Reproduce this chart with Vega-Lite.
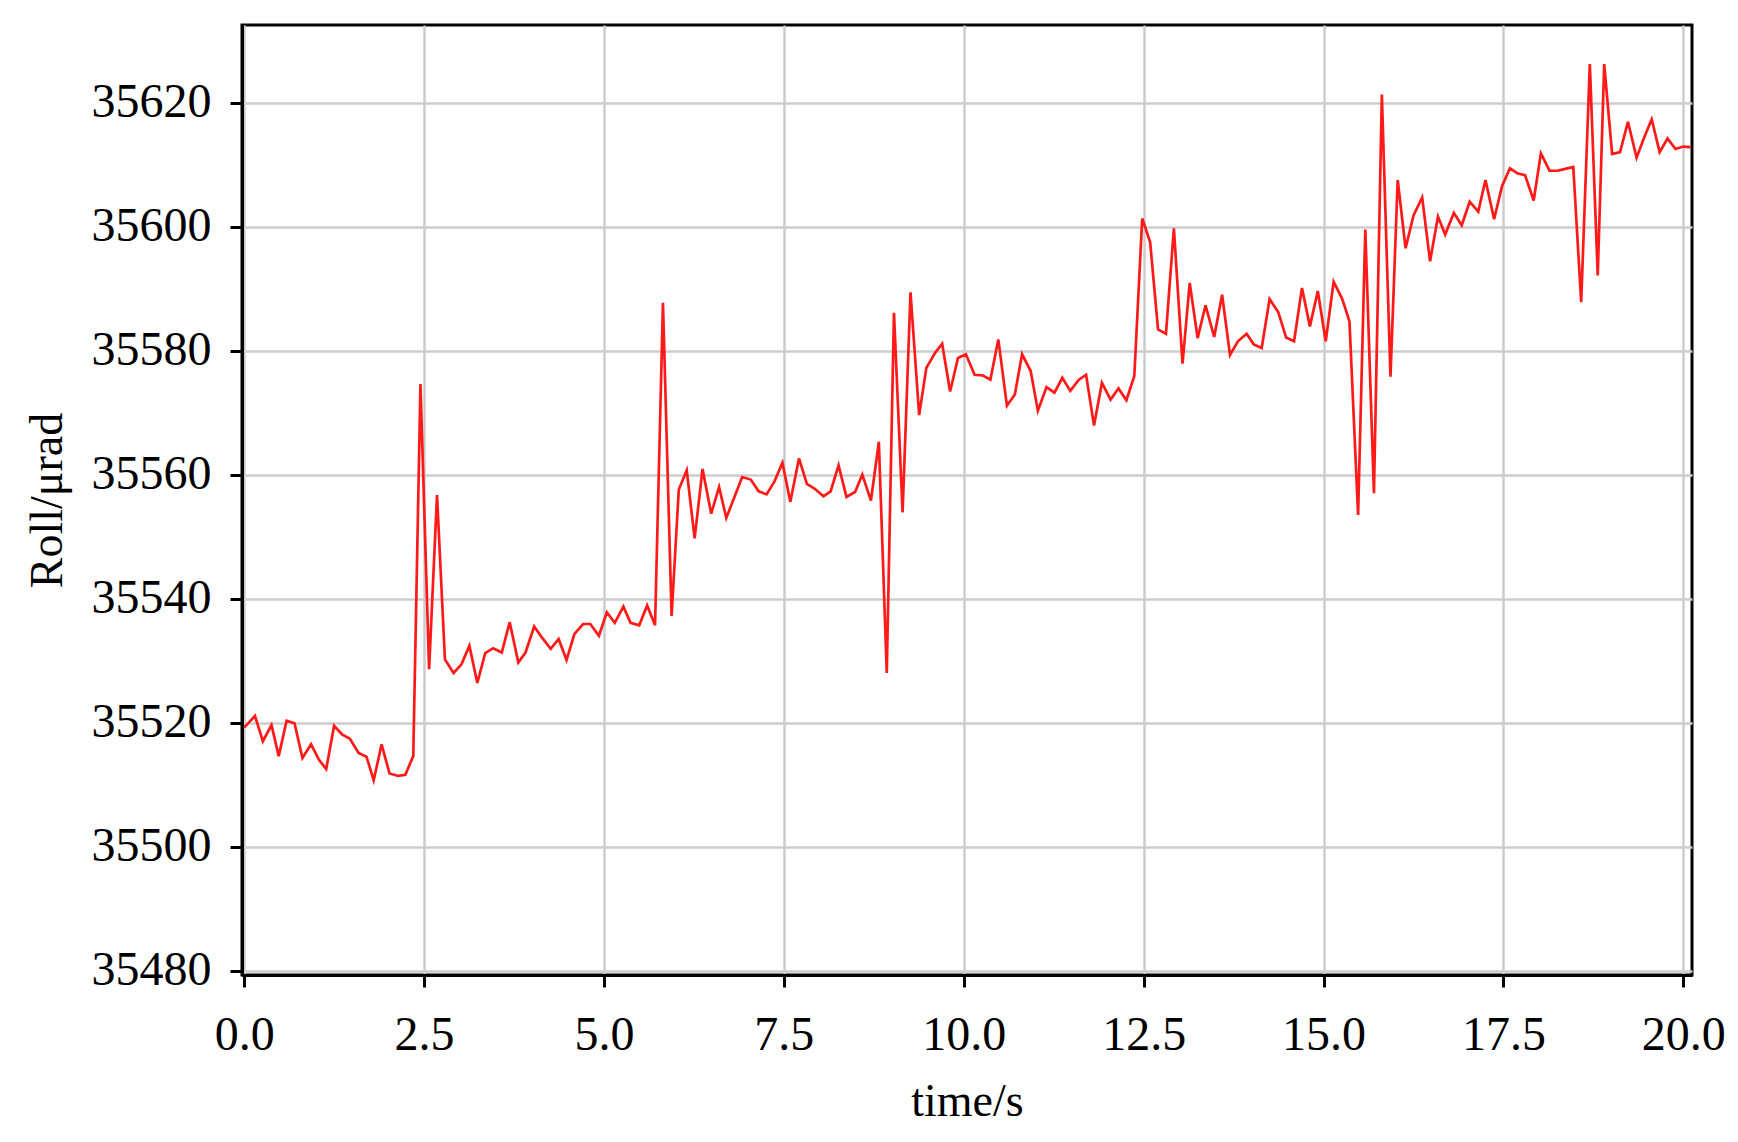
{
  "$schema": "https://vega.github.io/schema/vega-lite/v6.json",
  "width": 1450,
  "height": 950,
  "autosize": {"type": "none"},
  "padding": {"left": 242, "top": 25, "right": 46, "bottom": 167},
  "background": "white",
  "config": {
    "view": {"stroke": "black", "strokeWidth": 3},
    "axis": {
      "domainColor": "black",
      "domainWidth": 3,
      "tickColor": "black",
      "tickWidth": 3,
      "tickSize": 12,
      "labelFont": "Liberation Serif",
      "labelFontSize": 48,
      "labelColor": "black",
      "titleFont": "Liberation Serif",
      "titleFontSize": 46,
      "titleFontWeight": "normal",
      "titleColor": "black",
      "grid": true,
      "gridColor": "#cccccc",
      "gridWidth": 2.5
    }
  },
  "data": {
    "values": [
      {"t": 0.00, "roll": 35519.2}, {"t": 0.15, "roll": 35521.1}, {"t": 0.26, "roll": 35517.0}, {"t": 0.38, "roll": 35519.6},
      {"t": 0.48, "roll": 35514.6}, {"t": 0.59, "roll": 35520.3}, {"t": 0.70, "roll": 35519.9}, {"t": 0.81, "roll": 35514.3},
      {"t": 0.93, "roll": 35516.5}, {"t": 1.04, "roll": 35514.0}, {"t": 1.14, "roll": 35512.5}, {"t": 1.25, "roll": 35519.5},
      {"t": 1.36, "roll": 35518.1}, {"t": 1.47, "roll": 35517.4}, {"t": 1.59, "roll": 35515.1}, {"t": 1.70, "roll": 35514.5},
      {"t": 1.80, "roll": 35510.7}, {"t": 1.91, "roll": 35516.5}, {"t": 2.02, "roll": 35511.8}, {"t": 2.14, "roll": 35511.4},
      {"t": 2.24, "roll": 35511.6}, {"t": 2.35, "roll": 35514.6}, {"t": 2.45, "roll": 35574.6}, {"t": 2.57, "roll": 35528.6},
      {"t": 2.68, "roll": 35556.7}, {"t": 2.79, "roll": 35530.2}, {"t": 2.91, "roll": 35528.0}, {"t": 3.02, "roll": 35529.4},
      {"t": 3.13, "roll": 35532.4}, {"t": 3.24, "roll": 35526.4}, {"t": 3.35, "roll": 35531.2}, {"t": 3.46, "roll": 35532.0},
      {"t": 3.58, "roll": 35531.3}, {"t": 3.69, "roll": 35536.2}, {"t": 3.81, "roll": 35529.7}, {"t": 3.91, "roll": 35531.3},
      {"t": 4.03, "roll": 35535.5}, {"t": 4.14, "roll": 35533.7}, {"t": 4.26, "roll": 35531.9}, {"t": 4.37, "roll": 35533.5},
      {"t": 4.48, "roll": 35530.1}, {"t": 4.59, "roll": 35534.3}, {"t": 4.71, "roll": 35535.9}, {"t": 4.81, "roll": 35535.9},
      {"t": 4.93, "roll": 35534.0}, {"t": 5.04, "roll": 35537.8}, {"t": 5.15, "roll": 35536.1}, {"t": 5.27, "roll": 35538.7},
      {"t": 5.37, "roll": 35536.1}, {"t": 5.49, "roll": 35535.7}, {"t": 5.60, "roll": 35538.9}, {"t": 5.71, "roll": 35535.7},
      {"t": 5.82, "roll": 35587.7}, {"t": 5.94, "roll": 35537.2}, {"t": 6.04, "roll": 35557.6}, {"t": 6.15, "roll": 35560.7},
      {"t": 6.26, "roll": 35549.7}, {"t": 6.37, "roll": 35560.9}, {"t": 6.49, "roll": 35553.7}, {"t": 6.60, "roll": 35558.0},
      {"t": 6.70, "roll": 35553.0}, {"t": 6.82, "roll": 35556.6}, {"t": 6.92, "roll": 35559.6}, {"t": 7.04, "roll": 35559.2},
      {"t": 7.15, "roll": 35557.3}, {"t": 7.26, "roll": 35556.8}, {"t": 7.37, "roll": 35558.9}, {"t": 7.48, "roll": 35561.9},
      {"t": 7.59, "roll": 35555.6}, {"t": 7.71, "roll": 35562.6}, {"t": 7.82, "roll": 35558.5}, {"t": 7.93, "roll": 35557.7},
      {"t": 8.05, "roll": 35556.5}, {"t": 8.15, "roll": 35557.3}, {"t": 8.26, "roll": 35561.5}, {"t": 8.37, "roll": 35556.4},
      {"t": 8.49, "roll": 35557.2}, {"t": 8.59, "roll": 35560.0}, {"t": 8.71, "roll": 35555.8}, {"t": 8.82, "roll": 35565.3},
      {"t": 8.93, "roll": 35528.0}, {"t": 9.03, "roll": 35586.1}, {"t": 9.15, "roll": 35553.9}, {"t": 9.26, "roll": 35589.4},
      {"t": 9.38, "roll": 35569.6}, {"t": 9.48, "roll": 35577.2}, {"t": 9.60, "roll": 35579.6}, {"t": 9.70, "roll": 35581.1},
      {"t": 9.81, "roll": 35573.4}, {"t": 9.92, "roll": 35578.8}, {"t": 10.03, "roll": 35579.4}, {"t": 10.15, "roll": 35576.1},
      {"t": 10.26, "roll": 35576.0}, {"t": 10.37, "roll": 35575.3}, {"t": 10.48, "roll": 35581.8}, {"t": 10.60, "roll": 35571.1},
      {"t": 10.71, "roll": 35572.9}, {"t": 10.81, "roll": 35579.4}, {"t": 10.93, "roll": 35576.7}, {"t": 11.03, "roll": 35570.3},
      {"t": 11.15, "roll": 35574.1}, {"t": 11.26, "roll": 35573.2}, {"t": 11.37, "roll": 35575.6}, {"t": 11.48, "roll": 35573.5},
      {"t": 11.60, "roll": 35575.3}, {"t": 11.70, "roll": 35576.1}, {"t": 11.81, "roll": 35567.9}, {"t": 11.92, "roll": 35574.8},
      {"t": 12.04, "roll": 35572.1}, {"t": 12.15, "roll": 35573.9}, {"t": 12.26, "roll": 35572.0}, {"t": 12.37, "roll": 35575.9},
      {"t": 12.48, "roll": 35601.3}, {"t": 12.59, "roll": 35597.5}, {"t": 12.70, "roll": 35583.4}, {"t": 12.81, "roll": 35582.7},
      {"t": 12.92, "roll": 35599.7}, {"t": 13.04, "roll": 35577.9}, {"t": 13.14, "roll": 35590.9}, {"t": 13.25, "roll": 35582.0},
      {"t": 13.36, "roll": 35587.3}, {"t": 13.48, "roll": 35582.2}, {"t": 13.59, "roll": 35589.0}, {"t": 13.70, "roll": 35579.3},
      {"t": 13.81, "roll": 35581.5}, {"t": 13.93, "roll": 35582.7}, {"t": 14.03, "roll": 35581.0}, {"t": 14.14, "roll": 35580.4},
      {"t": 14.25, "roll": 35588.3}, {"t": 14.37, "roll": 35586.2}, {"t": 14.48, "roll": 35582.1}, {"t": 14.59, "roll": 35581.5},
      {"t": 14.70, "roll": 35590.1}, {"t": 14.81, "roll": 35583.9}, {"t": 14.92, "roll": 35589.6}, {"t": 15.03, "roll": 35581.5},
      {"t": 15.14, "roll": 35591.1}, {"t": 15.26, "roll": 35588.3}, {"t": 15.36, "roll": 35584.7}, {"t": 15.48, "roll": 35553.5},
      {"t": 15.58, "roll": 35599.5}, {"t": 15.70, "roll": 35557.0}, {"t": 15.81, "roll": 35621.3}, {"t": 15.93, "roll": 35575.8},
      {"t": 16.03, "roll": 35607.5}, {"t": 16.14, "roll": 35596.5}, {"t": 16.25, "roll": 35601.8}, {"t": 16.37, "roll": 35604.7},
      {"t": 16.48, "roll": 35594.4}, {"t": 16.59, "roll": 35601.6}, {"t": 16.69, "roll": 35598.7}, {"t": 16.81, "roll": 35602.2},
      {"t": 16.92, "roll": 35600.2}, {"t": 17.03, "roll": 35604.0}, {"t": 17.15, "roll": 35602.4}, {"t": 17.25, "roll": 35607.5},
      {"t": 17.37, "roll": 35601.2}, {"t": 17.48, "roll": 35606.5}, {"t": 17.59, "roll": 35609.4}, {"t": 17.69, "roll": 35608.6},
      {"t": 17.80, "roll": 35608.3}, {"t": 17.92, "roll": 35604.2}, {"t": 18.02, "roll": 35611.8}, {"t": 18.14, "roll": 35609.0},
      {"t": 18.25, "roll": 35609.0}, {"t": 18.36, "roll": 35609.3}, {"t": 18.47, "roll": 35609.6}, {"t": 18.58, "roll": 35587.8},
      {"t": 18.70, "roll": 35626.2}, {"t": 18.81, "roll": 35592.1}, {"t": 18.90, "roll": 35626.2}, {"t": 19.01, "roll": 35611.7},
      {"t": 19.12, "roll": 35612.0}, {"t": 19.23, "roll": 35616.9}, {"t": 19.35, "roll": 35611.1}, {"t": 19.45, "roll": 35614.2},
      {"t": 19.56, "roll": 35617.3}, {"t": 19.67, "roll": 35612.0}, {"t": 19.78, "roll": 35614.2}, {"t": 19.89, "roll": 35612.5},
      {"t": 20.00, "roll": 35612.9}, {"t": 20.10, "roll": 35612.8}
    ]
  },
  "mark": {"type": "line", "color": "#ff1a1a", "strokeWidth": 2.7, "clip": true},
  "encoding": {
    "x": {
      "field": "t",
      "type": "quantitative",
      "scale": {"domain": [-0.03, 20.12], "nice": false, "zero": false},
      "axis": {
        "title": "time/s",
        "values": [0, 2.5, 5, 7.5, 10, 12.5, 15, 17.5, 20],
        "format": ".1f",
        "labelPadding": 24,
        "titlePadding": 20,
        "labelFlush": false
      }
    },
    "y": {
      "field": "roll",
      "type": "quantitative",
      "scale": {"domain": [35479.3, 35632.5], "nice": false, "zero": false},
      "axis": {
        "title": "Roll/μrad",
        "values": [35480, 35500, 35520, 35540, 35560, 35580, 35600, 35620],
        "format": "d",
        "labelPadding": 19,
        "titlePadding": 20,
        "labelFlush": false
      }
    }
  }
}
